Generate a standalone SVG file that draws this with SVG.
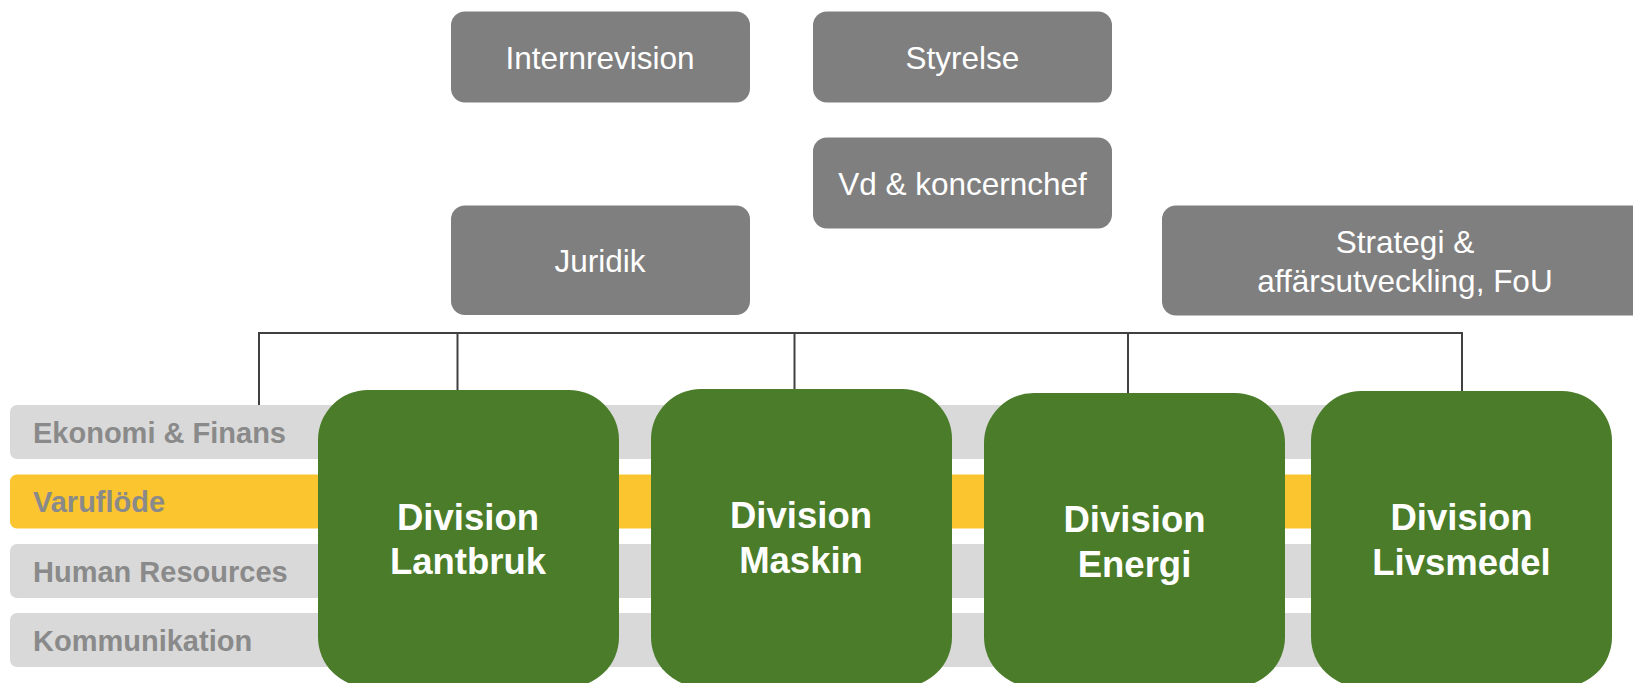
<svg xmlns="http://www.w3.org/2000/svg" width="1633" height="683" viewBox="0 0 1633 683">
<style>
.gbox{fill:#7f7f7f}
.gtxt{font-family:"Liberation Sans",Arial,sans-serif;font-size:31.5px;fill:#ffffff;text-anchor:middle}
.band{fill:#d9d9d9}
.band.y{fill:#fbc530}
.btxt{font-family:"Liberation Sans",Arial,sans-serif;font-size:29px;font-weight:bold;fill:#8a8a8a}
.div{fill:#4a7c29}
.dtxt{font-family:"Liberation Sans",Arial,sans-serif;font-size:36.5px;font-weight:bold;fill:#ffffff;text-anchor:middle}
.conn{stroke:#404040;stroke-width:2;fill:none}
</style>
<rect width="1633" height="683" fill="#ffffff"/>
<g id="internrevision"><rect class="gbox" x="451" y="11.5" width="299" height="91" rx="14"/><text class="gtxt" x="600" y="69">Internrevision</text></g>
<g id="styrelse"><rect class="gbox" x="813" y="11.5" width="299" height="91" rx="14"/><text class="gtxt" x="962.5" y="69">Styrelse</text></g>
<g id="vd"><rect class="gbox" x="813" y="137.5" width="299" height="91" rx="14"/><text class="gtxt" x="962.5" y="195">Vd &amp; koncernchef</text></g>
<g id="juridik"><rect class="gbox" x="451" y="205.5" width="299" height="109.5" rx="14"/><text class="gtxt" x="600" y="271.5">Juridik</text></g>
<g id="strategi"><rect class="gbox" x="1162" y="205.5" width="500" height="110" rx="14"/><text class="gtxt" x="1405" y="252.5">Strategi &amp;</text><text class="gtxt" x="1405" y="291.5">affärsutveckling, FoU</text></g>
<g id="connectors">
<path class="conn" d="M259,405 V333 H1462 V391"/>
<path class="conn" d="M457.5,333 V390"/>
<path class="conn" d="M794.5,333 V389"/>
<path class="conn" d="M1128,333 V393"/>
</g>
<g id="band-ekonomi"><rect class="band" x="10" y="405" width="1550" height="54" rx="7"/><text class="btxt" x="33" y="442.5">Ekonomi &amp; Finans</text></g>
<g id="band-varufl"><rect class="band y" x="10" y="474.5" width="1550" height="54" rx="7"/><text class="btxt" x="33" y="512">Varuflöde</text></g>
<g id="band-hr"><rect class="band" x="10" y="544" width="1550" height="54" rx="7"/><text class="btxt" x="33" y="581.5">Human Resources</text></g>
<g id="band-komm"><rect class="band" x="10" y="613" width="1550" height="54" rx="7"/><text class="btxt" x="33" y="651">Kommunikation</text></g>
<g id="div-lantbruk"><rect class="div" x="318" y="390" width="301" height="297" rx="50"/><text class="dtxt" x="468" y="530">Division</text><text class="dtxt" x="468" y="574">Lantbruk</text></g>
<g id="div-maskin"><rect class="div" x="651" y="389" width="301" height="298" rx="50"/><text class="dtxt" x="801" y="528">Division</text><text class="dtxt" x="801" y="573">Maskin</text></g>
<g id="div-energi"><rect class="div" x="984" y="393" width="301" height="294" rx="50"/><text class="dtxt" x="1134.5" y="532">Division</text><text class="dtxt" x="1134.5" y="577">Energi</text></g>
<g id="div-livsmedel"><rect class="div" x="1311" y="391" width="301" height="296" rx="50"/><text class="dtxt" x="1461.5" y="530">Division</text><text class="dtxt" x="1461.5" y="575">Livsmedel</text></g>
</svg>
